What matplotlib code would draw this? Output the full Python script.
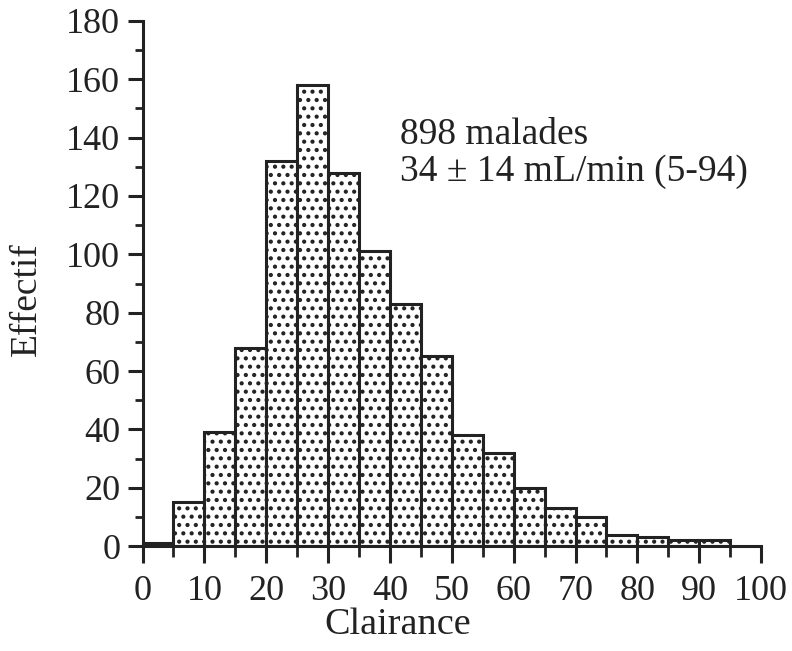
import matplotlib
matplotlib.use("Agg")
import matplotlib.pyplot as plt
import numpy as np

bin_starts = [0, 5, 10, 15, 20, 25, 30, 35, 40, 45, 50, 55, 60, 65, 70, 75, 80, 85, 90]
counts = [1, 15, 39, 68, 132, 158, 128, 101, 83, 65, 38, 32, 20, 13, 10, 4, 3, 2, 2]
xticks = [0, 10, 20, 30, 40, 50, 60, 70, 80, 90, 100]
yticks = [0, 20, 40, 60, 80, 100, 120, 140, 160, 180]

plt.rcParams['font.family'] = ['Liberation Serif', 'DejaVu Serif']
plt.rcParams['hatch.linewidth'] = 1.8
plt.rcParams['hatch.color'] = '#222222'

fig = plt.figure(figsize=(7.92, 6.51), dpi=100)
ax = fig.add_axes([0.18, 0.161, 0.781, 0.807])

ax.bar(bin_starts, counts, width=5, align='edge', color='white',
       edgecolor='#222222', linewidth=2.2, hatch='..')

ax.set_xlim(0, 100)
ax.set_ylim(0, 180)
for s in ['top', 'right']:
    ax.spines[s].set_visible(False)
for s in ['left', 'bottom']:
    ax.spines[s].set_linewidth(2.2)
    ax.spines[s].set_color('#222222')

ax.set_xticks(xticks)
ax.set_yticks(yticks)
ax.set_xticks(np.arange(5, 100, 10), minor=True)
ax.set_yticks(np.arange(10, 180, 20), minor=True)
ax.tick_params(axis='both', which='major', labelsize=26, width=2.2, length=11,
               color='#222222', labelcolor='#222222', direction='out')
ax.tick_params(axis='both', which='minor', width=2.0, length=6, color='#222222',
               direction='out')
ax.tick_params(axis='x', which='major', length=12, pad=9)
ax.tick_params(axis='x', which='minor', length=8)
ax.tick_params(axis='y', which='major', pad=5)

ax.set_xlabel('Clairance', fontsize=27.5, color='#222222')
ax.xaxis.set_label_coords(0.413, -0.117)
ax.set_ylabel('Effectif', fontsize=27, color='#222222')
ax.yaxis.set_label_coords(-0.16, 0.47)

ax.text(41.7, 134.7, '898 malades\n34 ± 14 mL/min (5-94)', fontsize=27,
        color='#222222', va='center', ha='left', linespacing=1.1)

fig.savefig('out.png', dpi=100)
